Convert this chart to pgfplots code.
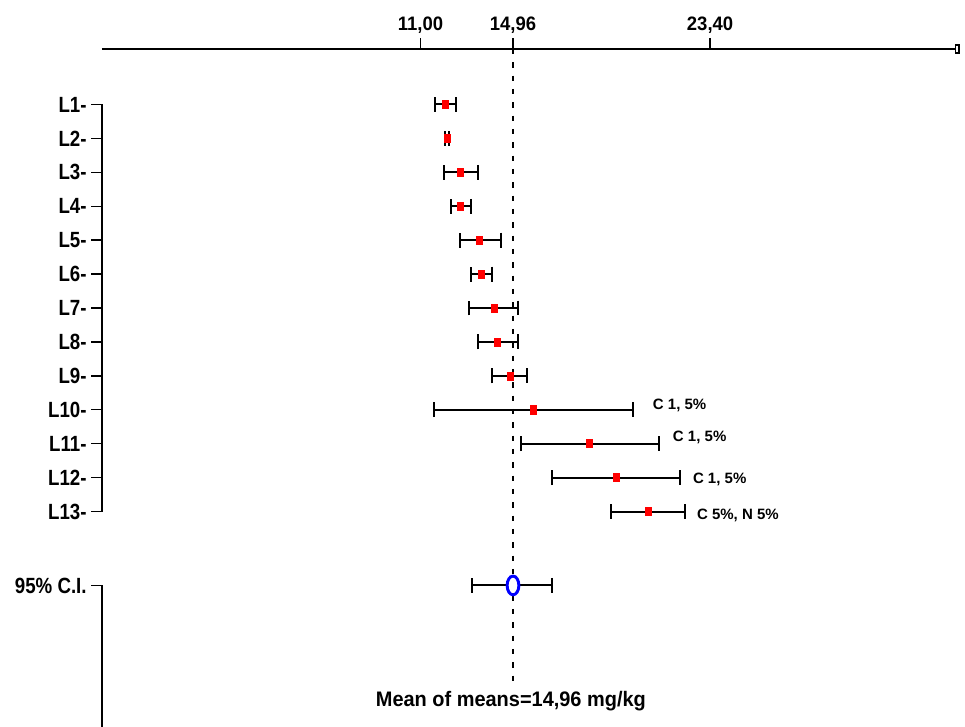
\documentclass[border=0pt]{standalone}
\usepackage{fontspec}
\setmainfont{Liberation Sans}
\newfontfamily\ylabfont[FakeStretch=0.85]{Liberation Sans}
\newfontfamily\tickfont[FakeStretch=0.95]{Liberation Sans}
\usepackage{pgfplots}
\pgfplotsset{compat=1.18}
\usepackage{pgfplotstable}
\usetikzlibrary{arrows.meta}

\pgfplotstableread{
y     m      lo     hi
-1    12.08  11.62  12.52
-2    12.13  12.06  12.24
-3    12.71  12.01  13.46
-4    12.71  12.32  13.18
-5    13.53  12.71  14.46
-6    13.61  13.16  14.08
-7    14.15  13.08  15.17
-8    14.30  13.46  15.17
-9    14.83  14.06  15.58
-10   15.82  11.58  20.09
-11   18.23  15.29  21.23
-12   19.38  16.64  22.12
-13   20.75  19.16  22.33
}\labs

\pgfplotstableread{
y       m      lo     hi
-15.18  14.96  13.22  16.63
}\ci

\begin{document}
\begin{tikzpicture}
\useasboundingbox (-76.5pt,0pt) rectangle (647.25pt,545.25pt);
\begin{axis}[
  at={(0pt,0pt)}, anchor=south west,
  scale only axis, width=643.5pt, height=508.5pt,
  xmin=-2.642, xmax=34.103, ymin=-19.353, ymax=0.636,
  axis x line*=top, axis y line*=left,
  x axis line style={line width=1.2pt, -{Square[open,length=4pt,width=7pt]}},
  y axis line style={draw=none},
  xtick={11,14.96,23.4}, xticklabels={{11,00},{14,96},{23,40}},
  ytick={-1,-2,-3,-4,-5,-6,-7,-8,-9,-10,-11,-12,-13,-15.18},
  yticklabels={L1-,L2-,L3-,L4-,L5-,L6-,L7-,L8-,L9-,L10-,L11-,L12-,L13-,95\% C.I.},
  tick align=outside, major tick length=8pt,
  tick style={black, line width=1.1pt},
  xticklabel style={font=\tickfont\bfseries\fontsize{14.6}{16}\selectfont},
  yticklabel style={font=\ylabfont\bfseries\fontsize{16.5}{18}\selectfont},
  clip=false,
]
\draw[line width=1.1pt] (axis cs:-2.642,-1) -- (axis cs:-2.642,-13);
\draw[line width=1.1pt] (axis cs:-2.642,-15.18) -- (axis cs:-2.642,-19.353);
\addplot[black, line width=1.2pt, dash pattern=on 4pt off 6pt] coordinates {(14.96,0.636) (14.96,-18.2)};
\addplot[only marks, mark=square*, mark size=2.25pt,
  mark options={red, draw=red, fill=red, yscale=1.35},
  error bars/.cd, x dir=both, x explicit, error mark=|,
  error bar style={black, line width=1.5pt},
  error mark options={black, mark size=5.6pt, line width=1.5pt}]
  table[x=m, y=y, x error plus expr=\thisrow{hi}-\thisrow{m}, x error minus expr=\thisrow{m}-\thisrow{lo}] {\labs};
\addplot[only marks, mark=*, mark size=4.4pt,
  mark options={draw=blue, fill=white, line width=2.2pt, yscale=1.6},
  error bars/.cd, x dir=both, x explicit, error mark=|,
  error bar style={black, line width=1.5pt},
  error mark options={black, mark size=5.6pt, line width=1.5pt}]
  table[x=m, y=y, x error plus expr=\thisrow{hi}-\thisrow{m}, x error minus expr=\thisrow{m}-\thisrow{lo}] {\ci};
\node[anchor=base west, inner sep=0pt, font=\bfseries\fontsize{11.25}{13}\selectfont] at (axis cs:20.943,-10.007) {C 1, 5\%};
\node[anchor=base west, inner sep=0pt, font=\bfseries\fontsize{11.25}{13}\selectfont] at (axis cs:21.80,-10.942) {C 1, 5\%};
\node[anchor=base west, inner sep=0pt, font=\bfseries\fontsize{11.25}{13}\selectfont] at (axis cs:22.657,-12.16) {C 1, 5\%};
\node[anchor=base west, inner sep=0pt, font=\bfseries\fontsize{11.25}{13}\selectfont] at (axis cs:22.83,-13.25) {C 5\%, N 5\%};
\node[anchor=base, inner sep=0pt, font=\tickfont\bfseries\fontsize{15.75}{18}\selectfont] at (axis cs:14.87,-18.76) {Mean of means=14,96 mg/kg};
\end{axis}
\end{tikzpicture}
\end{document}
